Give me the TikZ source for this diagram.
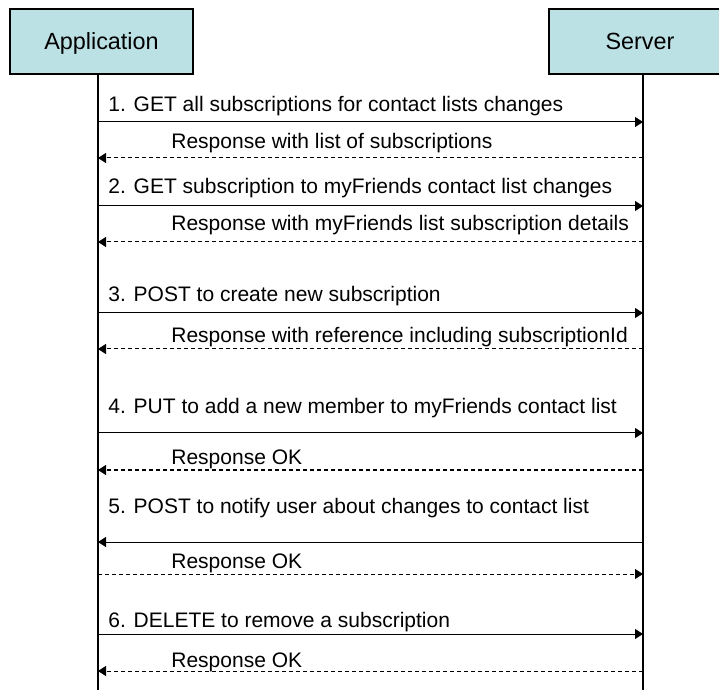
\documentclass[tikz,border=0pt]{standalone}
\usepackage{fontspec}
\setmainfont{Liberation Sans}
\usetikzlibrary{arrows.meta}
\definecolor{headfill}{RGB}{188,225,228}

\begin{document}
\begin{tikzpicture}[
		x=0.5pt, y=-0.5pt,
		actor/.style={draw, line width=1pt, fill=headfill, minimum width=91.5pt, minimum height=32.5pt, inner sep=0pt, text height=8.4pt, text depth=0pt, font=\fontsize{11.7}{14}\selectfont},
		lifeline/.style={line width=1pt},
		call/.style={line width=0.5pt, -{Triangle[length=4pt,width=5pt]}},
		reply/.style={call, dash pattern=on 2pt off 1.5pt},
		lbl/.style={anchor=base west, inner sep=0pt, font=\fontsize{10.5}{12.6}\selectfont}
	]
	\useasboundingbox (0,0) rectangle (719,690);

	\node[actor] (app) at (101.5,41.5) {Application};
	\node[actor] (srv) at (640,41.5) {Server};

	\coordinate (appEnd) at (98,690);
	\coordinate (srvEnd) at (643,690);
	\draw[lifeline] (appEnd |- app.south) -- (appEnd);
	\draw[lifeline] (srvEnd |- srv.south) -- (srvEnd);

	% message rows on both lifelines
	\foreach \name/\y in {m1/122, r1/158, m2/206, r2/242, m3/313, r3/349, m4/433, r4/470, m5/542, r5/574, m6/634, r6/671} {
		\coordinate (a-\name) at (98,\y);
		\coordinate (s-\name) at (643,\y);
	}

	\node[lbl] (t-m1) at (108,112) {1. GET all subscriptions for contact lists changes};
	\node[lbl] (t-r1) at (171,149) {Response with list of subscriptions};
	\node[lbl] (t-m2) at (108,194) {2. GET subscription to myFriends contact list changes};
	\node[lbl] (t-r2) at (171,231) {Response with myFriends list subscription details};
	\node[lbl] (t-m3) at (108,302) {3. POST to create new subscription};
	\node[lbl] (t-r3) at (171,343) {Response with reference including subscriptionId};
	\node[lbl] (t-m4) at (108,414) {4. PUT to add a new member to myFriends contact list};
	\node[lbl] (t-r4) at (171,465) {Response OK};
	\node[lbl] (t-m5) at (108,513) {5. POST to notify user about changes to contact list};
	\node[lbl] (t-r5) at (171,568) {Response OK};
	\node[lbl] (t-m6) at (108,627) {6. DELETE to remove a subscription};
	\node[lbl] (t-r6) at (171,667) {Response OK};

	\draw[call] (a-m1) -- (s-m1);
	\draw[reply] (s-r1) -- (a-r1);
	\draw[call] (a-m2) -- (s-m2);
	\draw[reply] (s-r2) -- (a-r2);
	\draw[call] (a-m3) -- (s-m3);
	\draw[reply] (s-r3) -- (a-r3);
	\draw[call] (a-m4) -- (s-m4);
	\draw[reply] (s-r4) -- (a-r4);
	\draw[call] (s-m5) -- (a-m5);
	\draw[reply] (a-r5) -- (s-r5);
	\draw[call] (a-m6) -- (s-m6);
	\draw[reply] (s-r6) -- (a-r6);
\end{tikzpicture}
\end{document}
